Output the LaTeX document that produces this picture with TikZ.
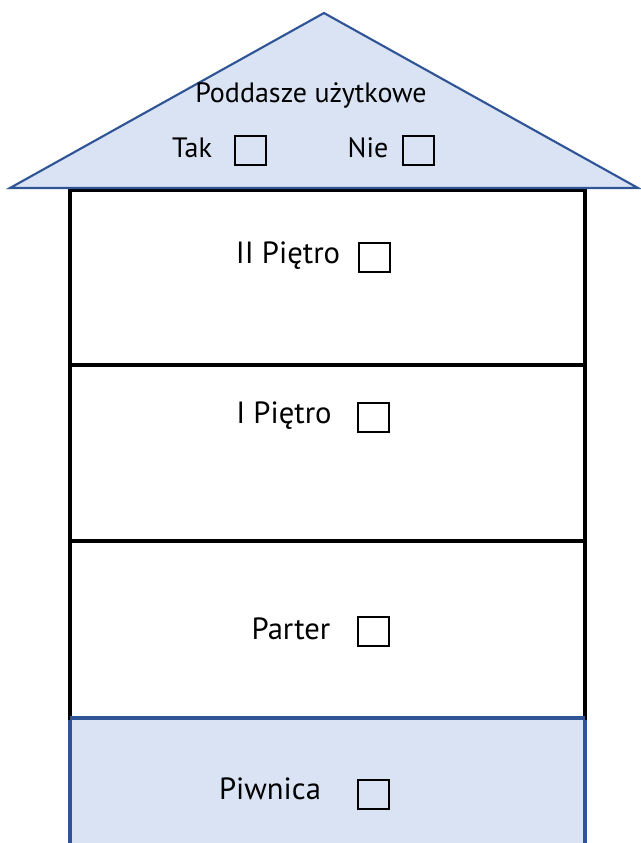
\documentclass[tikz,border=0pt]{standalone}
\usepackage{fontspec}
\setmainfont{PT Sans}
\definecolor{roofblue}{HTML}{DAE3F3}
\definecolor{lineblue}{HTML}{2F5597}
\begin{document}
\begin{tikzpicture}[x=0.75pt,y=-0.75pt,
  lbl/.style={inner sep=0pt, anchor=base, font=\fontsize{23}{27}\selectfont},
  rooflbl/.style={inner sep=0pt, anchor=base, font=\fontsize{21}{25}\selectfont},
  chk/.style={draw=black, line width=1.6pt, minimum width=23pt, minimum height=22pt, inner sep=0pt, anchor=north west},
  floorbox/.style={draw=black, line width=2.4pt},
  basebox/.style={draw=lineblue, line width=2.4pt}]
\useasboundingbox (0,0) rectangle (640,843);
% basement
\fill[roofblue] (70,718) rectangle (585,843);
\draw[basebox] (70,846) -- (70,718) -- (585,718) -- (585,846);
% floors
\draw[floorbox] (70,190) rectangle (585,365);
\draw[floorbox] (70,365) rectangle (585,541);
\draw[floorbox] (70,541) rectangle (585,718);
\draw[basebox] (70,718) -- (585,718);
% roof
\draw[lineblue, fill=roofblue, line width=1.6pt, line join=miter] (10,188) -- (324,13) -- (638,188) -- cycle;
% texts
\node[rooflbl] (pod) at (311,102) {Poddasze użytkowe};
\node[rooflbl] (tak) at (192,157) {Tak};
\node[chk] (taknode) at (234,135) {};
\node[rooflbl] (nie) at (368,157) {Nie};
\node[chk] (nienode) at (402,135) {};
\node[lbl] (p2) at (288,263) {II Piętro};
\node[chk] (p2box) at (358,242) {};
\node[lbl] (p1) at (284,423) {I Piętro};
\node[chk] (p1box) at (357,402) {};
\node[lbl] (par) at (291,639) {Parter};
\node[chk] (parbox) at (357,616) {};
\node[lbl] (piw) at (270,799) {Piwnica};
\node[chk] (piwbox) at (357,779) {};
\end{tikzpicture}
\end{document}
